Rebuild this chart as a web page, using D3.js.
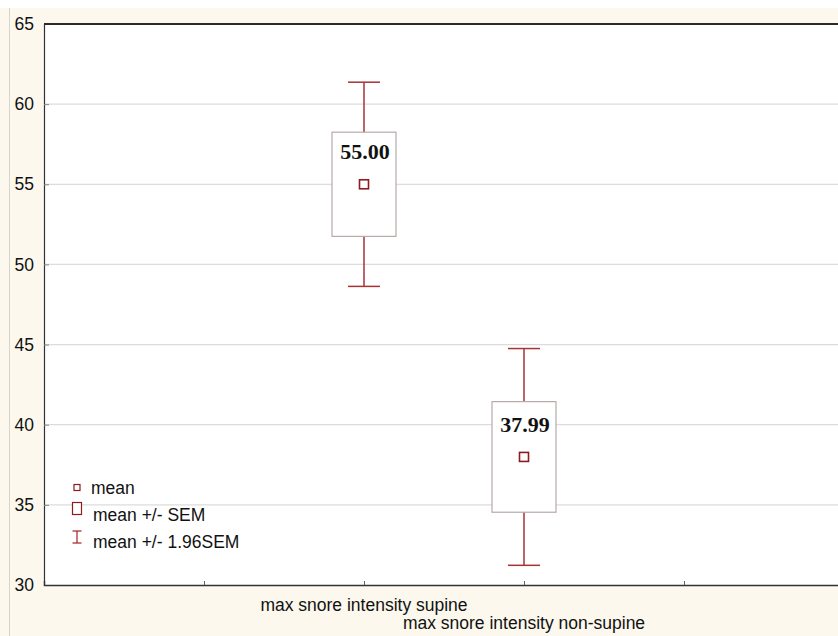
<!DOCTYPE html>
<html>
<head>
<meta charset="utf-8">
<script src="https://cdn.jsdelivr.net/npm/d3@7/dist/d3.min.js"></script>
<style>
  html, body { margin: 0; padding: 0; background: #ffffff; }
  svg { display: block; }
</style>
</head>
<body>
<svg id="chart" width="838" height="636"></svg>
<script>
// Category names, group means and standard errors
const categories = ["max snore intensity supine", "max snore intensity non-supine"];
const categoryPositions = [2, 3];
const means = [55.00, 37.99];
const sems = [3.25, 3.45];
const yTicks = [30, 35, 40, 45, 50, 55, 60, 65];
const xTicks = [1, 2, 3, 4];
const legendLabels = ["mean", "mean +/- SEM", "mean +/- 1.96SEM"];

const W = 838, H = 636;
const margin = { left: 44, top: 24, bottom: 585 };
const svg = d3.select("#chart");

const x = d3.scaleLinear().domain([0, 5]).range([margin.left, margin.left + 800]);
const y = d3.scaleLinear().domain([30, 65]).range([margin.bottom, margin.top]);

const redLine = "#a83234";
const meanColor = "#8e1b1d";
const boxColor = "#b9a9a9";
const sansFont = "Liberation Sans, Arial, sans-serif";
const sansSize = 17.5;

// page background
svg.append("rect").attr("x", 0).attr("y", 8).attr("width", W).attr("height", H - 8)
  .attr("fill", "#fcf8ed");
svg.append("line").attr("x1", 9.5).attr("x2", 9.5).attr("y1", 8).attr("y2", H)
  .attr("stroke", "#d8d4c8").attr("stroke-width", 1);

// plot area
svg.append("rect").attr("x", margin.left).attr("y", margin.top)
  .attr("width", W - margin.left).attr("height", margin.bottom - margin.top)
  .attr("fill", "#ffffff");

// horizontal gridlines
svg.append("g").selectAll("line").data(yTicks.filter(t => t > 30 && t < 65)).join("line")
  .attr("x1", margin.left).attr("x2", W)
  .attr("y1", d => y(d)).attr("y2", d => y(d))
  .attr("stroke", "#dcdcdc").attr("stroke-width", 1.2);

// y axis
const yAxis = d3.axisLeft(y).tickValues(yTicks).tickSize(-5).tickPadding(10).tickFormat(d3.format("d"));
const gy = svg.append("g").attr("transform", `translate(${margin.left},0)`).call(yAxis);
gy.select(".domain").attr("stroke", "#333").attr("stroke-width", 1.2);
gy.selectAll(".tick line").attr("stroke", "#888");
gy.selectAll(".tick text").attr("font-family", sansFont)
  .attr("font-size", sansSize).attr("fill", "#111");

// x axis (ticks only; labels are staggered below)
const xAxis = d3.axisBottom(x).tickValues(xTicks).tickSize(-4).tickFormat("");
const gx = svg.append("g").attr("transform", `translate(0,${margin.bottom})`).call(xAxis);
gx.select(".domain").attr("stroke", "#333").attr("stroke-width", 1.4);
gx.selectAll(".tick line").attr("stroke", "#666");

// top border
svg.append("line").attr("x1", margin.left).attr("x2", W)
  .attr("y1", margin.top).attr("y2", margin.top)
  .attr("stroke", "#2a2a2a").attr("stroke-width", 2);

// category labels
svg.append("g").selectAll("text").data(categories).join("text")
  .attr("x", (d, i) => x(categoryPositions[i]))
  .attr("y", (d, i) => i === 0 ? 610.5 : 629)
  .attr("text-anchor", "middle")
  .attr("font-family", sansFont)
  .attr("font-size", sansSize).attr("fill", "#111")
  .text(d => d);

// box / whisker groups
const groups = categories.map((c, i) => ({
  pos: categoryPositions[i], mean: means[i], sem: sems[i]
}));
const boxW = x(0.4) - x(0);
const capW = x(0.2) - x(0);

const g = svg.append("g").selectAll("g").data(groups).join("g");

// whiskers: mean +/- 1.96 SEM
g.append("line")
  .attr("x1", d => x(d.pos)).attr("x2", d => x(d.pos))
  .attr("y1", d => y(d.mean + 1.96 * d.sem)).attr("y2", d => y(d.mean - 1.96 * d.sem))
  .attr("stroke", redLine).attr("stroke-width", 1.5);
[1, -1].forEach(s => {
  g.append("line")
    .attr("x1", d => x(d.pos) - capW / 2).attr("x2", d => x(d.pos) + capW / 2)
    .attr("y1", d => y(d.mean + s * 1.96 * d.sem)).attr("y2", d => y(d.mean + s * 1.96 * d.sem))
    .attr("stroke", redLine).attr("stroke-width", 1.5);
});

// boxes: mean +/- SEM
g.append("rect")
  .attr("x", d => x(d.pos) - boxW / 2)
  .attr("y", d => y(d.mean + d.sem))
  .attr("width", boxW)
  .attr("height", d => y(d.mean - d.sem) - y(d.mean + d.sem))
  .attr("fill", "#ffffff").attr("stroke", boxColor).attr("stroke-width", 1.2);

// mean markers
g.append("rect")
  .attr("x", d => x(d.pos) - 4.5).attr("y", d => y(d.mean) - 4.5)
  .attr("width", 9).attr("height", 9)
  .attr("fill", "#ffffff").attr("stroke", meanColor).attr("stroke-width", 1.6);

// mean value labels
g.append("text")
  .attr("x", d => x(d.pos) + 1).attr("y", d => y(d.mean) - 25)
  .attr("text-anchor", "middle")
  .attr("font-family", "Liberation Serif, 'Times New Roman', serif")
  .attr("font-weight", "bold").attr("font-size", 22).attr("fill", "#111")
  .text(d => d.mean.toFixed(2));

// legend
const lg = svg.append("g");
const lx = 77;
lg.append("rect").attr("x", lx - 3).attr("y", 484.5).attr("width", 6).attr("height", 6)
  .attr("fill", "#fff").attr("stroke", meanColor).attr("stroke-width", 1.2);
lg.append("rect").attr("x", lx - 4.5).attr("y", 502.5).attr("width", 9).attr("height", 12)
  .attr("fill", "#fff").attr("stroke", meanColor).attr("stroke-width", 1.2);
lg.append("line").attr("x1", lx).attr("x2", lx).attr("y1", 531).attr("y2", 543)
  .attr("stroke", redLine).attr("stroke-width", 1.3);
lg.append("line").attr("x1", lx - 4.5).attr("x2", lx + 4.5).attr("y1", 531).attr("y2", 531)
  .attr("stroke", redLine).attr("stroke-width", 1.3);
lg.append("line").attr("x1", lx - 4.5).attr("x2", lx + 4.5).attr("y1", 543).attr("y2", 543)
  .attr("stroke", redLine).attr("stroke-width", 1.3);
lg.selectAll("text").data(legendLabels).join("text")
  .attr("x", (d, i) => i === 0 ? 91 : 93)
  .attr("y", (d, i) => [494, 521, 548][i])
  .attr("font-family", sansFont)
  .attr("font-size", sansSize).attr("fill", "#111")
  .text(d => d);
</script>
</body>
</html>
